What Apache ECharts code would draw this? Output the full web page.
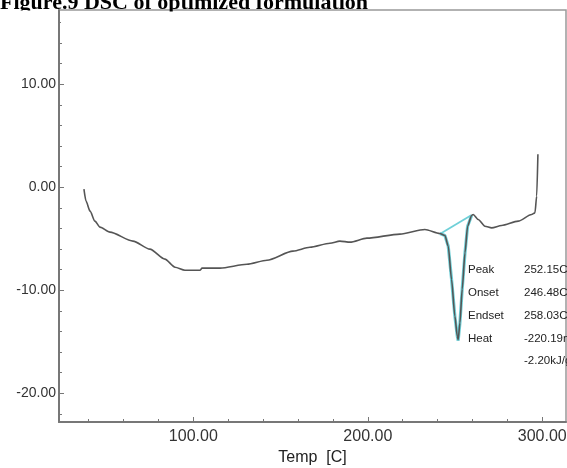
<!DOCTYPE html>
<html>
<head>
<meta charset="utf-8">
<script src="https://cdn.jsdelivr.net/npm/echarts@6/dist/echarts.min.js"></script>
<style>
html,body{margin:0;padding:0;background:#fff;}
#chart{width:567px;height:468px;}
</style>
</head>
<body>
<div id="chart"></div>
<script>
const titleText = 'Figure.9 DSC of optimized formulation';
const xName = 'Temp  [C]';
const tempC = [37.3, 38.5, 40.8, 43.6, 46.5, 52.2, 65.4, 75.1, 83.7, 89.5, 95.2, 103.8, 105.0, 115.3, 130.7, 142.2, 157.1, 166.8, 178.3, 184.0, 189.8, 199.5, 218.4, 232.7, 241.3, 244.2, 246.1, 248.0, 249.9, 251.3, 251.8, 252.8, 254.1, 255.7, 257.2, 259.5, 260.4, 263.3, 267.1, 271.0, 276.7, 286.2, 293.9, 295.8, 296.8, 297.5];
const heatFlow = [-0.19, -1.36, -2.33, -3.30, -3.88, -4.37, -5.24, -6.02, -6.99, -7.77, -8.06, -8.06, -7.86, -7.86, -7.48, -7.09, -6.21, -5.83, -5.44, -5.24, -5.34, -4.95, -4.56, -4.11, -4.50, -4.69, -5.73, -8.96, -12.52, -14.47, -14.81, -13.17, -9.90, -6.38, -3.79, -2.75, -2.65, -3.14, -3.79, -3.95, -3.72, -3.30, -2.65, -2.50, -0.87, 3.20];
const peakTemp = [241.3, 244.2, 246.1, 248.0, 249.9, 251.3, 251.8, 252.8, 254.1, 255.7, 257.2, 259.5];
const peakFlow = [-4.50, -4.69, -5.73, -8.96, -12.52, -14.47, -14.90, -13.17, -9.90, -6.38, -3.79, -2.75];
const baseTemp = [241.8, 259.5];
const baseFlow = [-4.50, -2.70];
const xMajorTicks = [100, 200, 300];
const xMinorTicks = [40, 60, 80, 120, 140, 160, 180, 220, 240, 260, 280];
const yMajorTicks = [-20, -10, 0, 10];
const yMinorTicks = [-22, -18, -16, -14, -12, -8, -6, -4, -2, 2, 4, 6, 8, 12, 14, 16];
const annotLabels = ['Peak', 'Onset', 'Endset', 'Heat', ''];
const annotValues = ['252.15C', '246.48C', '258.03C', '-220.19mJ', '-2.20kJ/g'];

const zip = (a, b) => a.map((v, i) => [v, b[i]]);
const chart = echarts.init(document.getElementById('chart'));

const annotY = [270, 293, 316, 339, 361];
const graphics = [
  {type: 'text', left: 0, top: -8, z: 50,
   style: {text: titleText, font: 'bold 22px "Liberation Serif"', fill: '#000'}},
  {type: 'rect', z: 100, shape: {x: 0, y: 10.5, width: 57.5, height: 14}, style: {fill: '#fff'}},
  {type: 'rect', z: 100, shape: {x: 61, y: 11.5, width: 380, height: 14}, style: {fill: '#fff'}}
];
annotLabels.forEach((t, i) => {
  if (t) graphics.push({type: 'text', x: 468, y: annotY[i], z: 60,
    style: {text: t, font: '11.5px "Liberation Sans"', fill: '#222', textVerticalAlign: 'middle'}});
  graphics.push({type: 'text', x: 524, y: annotY[i], z: 60,
    style: {text: annotValues[i], font: '11.5px "Liberation Sans"', fill: '#222', textVerticalAlign: 'middle'}});
});

const xLbl = {fontFamily: 'Liberation Sans', fontSize: 16, color: '#333'};
const yLbl = {fontFamily: 'Liberation Sans', fontSize: 14, color: '#333'};
chart.setOption({
  animation: false,
  backgroundColor: '#fff',
  grid: {left: 59, top: 10, right: 1, bottom: 46, outerBoundsMode: 'none', containLabel: false,
         show: true, borderColor: '#999', borderWidth: 1.5},
  graphic: graphics,
  xAxis: [
    {type: 'value', min: 23, max: 313.6, position: 'bottom',
     name: xName, nameLocation: 'middle', nameGap: 19,
     nameTextStyle: {fontFamily: 'Liberation Sans', fontSize: 16, color: '#222'},
     axisLine: {show: true, onZero: false, lineStyle: {color: '#777', width: 2}},
     axisTick: {show: true, inside: true, length: 5, customValues: xMajorTicks, lineStyle: {color: '#777'}},
     axisLabel: Object.assign({customValues: xMajorTicks, margin: 7, formatter: v => v.toFixed(2)}, xLbl),
     splitLine: {show: false}},
    {type: 'value', min: 23, max: 313.6, position: 'bottom',
     axisLine: {show: false, onZero: false},
     axisTick: {show: true, inside: true, length: 3, customValues: xMinorTicks, lineStyle: {color: '#777'}},
     axisLabel: {show: false}, splitLine: {show: false}}
  ],
  yAxis: [
    {type: 'value', min: -22.8, max: 17.2, position: 'left',
     axisLine: {show: true, onZero: false, lineStyle: {color: '#777', width: 2}},
     axisTick: {show: true, inside: true, length: 5, customValues: yMajorTicks, lineStyle: {color: '#777'}},
     axisLabel: Object.assign({customValues: yMajorTicks, margin: 3, formatter: v => v.toFixed(2)}, yLbl),
     splitLine: {show: false}},
    {type: 'value', min: -22.8, max: 17.2, position: 'left',
     axisLine: {show: false, onZero: false},
     axisTick: {show: true, inside: true, length: 3, customValues: yMinorTicks, lineStyle: {color: '#777'}},
     axisLabel: {show: false}, splitLine: {show: false}}
  ],
  series: [
    {type: 'line', data: zip(peakTemp, peakFlow), symbol: 'none', z: 1,
     lineStyle: {color: '#6fd0d8', width: 3.2}},
    {type: 'line', data: zip(baseTemp, baseFlow), symbol: 'none', z: 1,
     lineStyle: {color: '#6fd0d8', width: 1.8}},
    {type: 'line', data: zip(tempC, heatFlow), symbol: 'none', z: 3,
     smooth: 0.25, smoothMonotone: 'x',
     lineStyle: {color: '#555', width: 1.6}}
  ]
});
</script>
</body>
</html>
